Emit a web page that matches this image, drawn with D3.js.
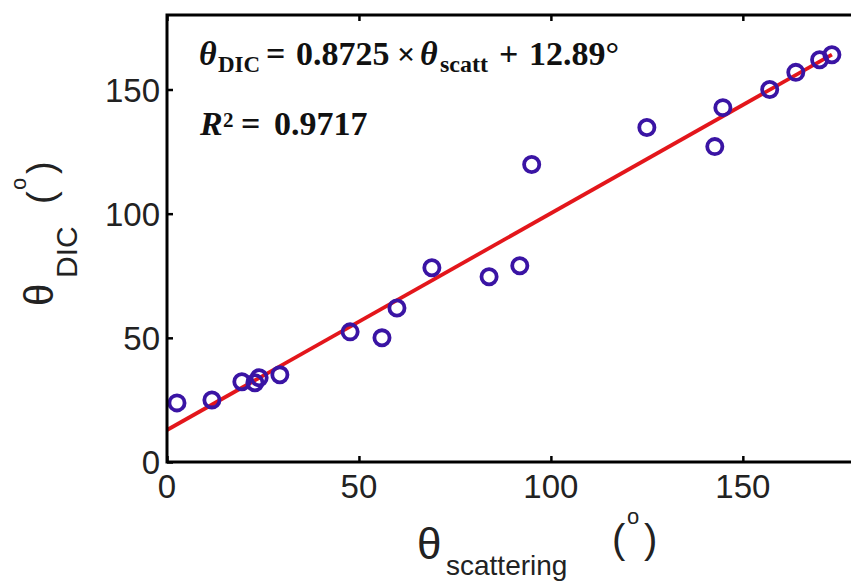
<!DOCTYPE html>
<html>
<head>
<meta charset="utf-8">
<script src="https://cdn.jsdelivr.net/npm/d3@7"></script>
<style>
  body { margin: 0; background: #fff; }
  svg { display: block; }
</style>
</head>
<body>
<svg id="chart" width="851" height="581"></svg>
<script>
// Measured angles (degrees)
const scatteringAngle = [2.6, 11.7, 19.5, 22.9, 24.0, 29.4, 47.7, 56.0, 59.9, 69.0, 83.9, 91.9, 95.0, 125.0, 142.7, 144.8, 157.0, 163.8, 170.0, 173.2];
const dicAngle        = [23.8, 25.0, 32.3, 31.9, 33.9, 35.1, 52.4, 50.0, 62.0, 78.2, 74.6, 79.0, 119.8, 134.7, 127.0, 142.7, 150.0, 156.9, 162.0, 164.0];

// Linear fit
const fitSlope = 0.8725;
const fitIntercept = 12.89;
const fitR2 = "0.9717";

// Axes
const xDomain = [0, 180];
const yDomain = [0, 180];
const xTicks = [0, 50, 100, 150];
const yTicks = [0, 50, 100, 150];

const svg = d3.select("#chart");
const plotLeft = 167, plotRight = 858, plotTop = 15, plotBottom = 462;

const x = d3.scaleLinear().domain(xDomain).range([plotLeft, plotRight]);
const y = d3.scaleLinear().domain(yDomain).range([plotBottom, plotTop]);

const sans = "'Liberation Sans', Arial, Helvetica, sans-serif";
const serif = "'Liberation Serif', 'Times New Roman', serif";
const labelColor = "#222";

// Fit line from 0 to the largest scattering angle
const fitX = [0, d3.max(scatteringAngle)];
const line = d3.line().x(d => x(d)).y(d => y(fitSlope * d + fitIntercept));
svg.append("path")
  .datum(fitX)
  .attr("d", line)
  .attr("fill", "none")
  .attr("stroke", "#e3161b")
  .attr("stroke-width", 3.8);

// Data markers
svg.append("g").selectAll("circle")
  .data(scatteringAngle.map((v, i) => [v, dicAngle[i]]))
  .join("circle")
  .attr("cx", d => x(d[0]))
  .attr("cy", d => y(d[1]))
  .attr("r", 7.6)
  .attr("fill", "none")
  .attr("stroke", "#3a14a4")
  .attr("stroke-width", 3.8);

// Box frame with inward ticks on all four sides
const tickLen = 6;
function styleAxis(g) {
  g.select(".domain").remove();
  g.selectAll(".tick line").attr("stroke", "#000").attr("stroke-width", 2.5);
}
svg.append("g").attr("transform", `translate(0,${plotBottom})`)
  .call(d3.axisBottom(x).tickValues(xTicks).tickSize(-tickLen).tickFormat(""))
  .call(styleAxis);
svg.append("g").attr("transform", `translate(0,${plotTop})`)
  .call(d3.axisTop(x).tickValues(xTicks).tickSize(-tickLen).tickFormat(""))
  .call(styleAxis);
svg.append("g").attr("transform", `translate(${plotLeft},0)`)
  .call(d3.axisLeft(y).tickValues(yTicks).tickSize(-tickLen).tickFormat(""))
  .call(styleAxis);
svg.append("g").attr("transform", `translate(${plotRight},0)`)
  .call(d3.axisRight(y).tickValues(yTicks).tickSize(-tickLen).tickFormat(""))
  .call(styleAxis);

svg.append("rect")
  .attr("x", plotLeft).attr("y", plotTop)
  .attr("width", plotRight - plotLeft).attr("height", plotBottom - plotTop)
  .attr("fill", "none").attr("stroke", "#000").attr("stroke-width", 3);

// Tick labels
svg.append("g").selectAll("text")
  .data(xTicks)
  .join("text")
  .attr("x", d => x(d))
  .attr("y", 498)
  .attr("text-anchor", "middle")
  .attr("font-family", sans)
  .attr("font-size", 33)
  .attr("fill", labelColor)
  .text(d => d);

svg.append("g").selectAll("text")
  .data(yTicks)
  .join("text")
  .attr("x", 160)
  .attr("y", d => y(d) + 12)
  .attr("text-anchor", "end")
  .attr("font-family", sans)
  .attr("font-size", 33)
  .attr("fill", labelColor)
  .text(d => d);

// X axis title: θ_scattering (°)
const xt = svg.append("text").attr("font-family", sans).attr("fill", labelColor);
xt.append("tspan").attr("x", 417).attr("y", 559).attr("font-size", 44).text("θ");
xt.append("tspan").attr("x", 446).attr("y", 575).attr("font-size", 28).text("scattering");
xt.append("tspan").attr("x", 612).attr("y", 553).attr("font-size", 40).text("(");
xt.append("tspan").attr("x", 627).attr("y", 524).attr("font-size", 22).text("o");
xt.append("tspan").attr("x", 644).attr("y", 553).attr("font-size", 40).text(")");

// Y axis title: θ_DIC (°), written in a frame rotated a quarter turn
const yt = svg.append("text")
  .attr("transform", "rotate(-90)")
  .attr("font-family", sans)
  .attr("fill", labelColor);
yt.append("tspan").attr("x", -306).attr("y", 53).attr("font-size", 40).text("θ");
yt.append("tspan").attr("x", -278).attr("y", 77).attr("font-size", 30).text("DIC");
yt.append("tspan").attr("x", -204).attr("y", 54).attr("font-size", 38).text("(");
yt.append("tspan").attr("x", -190).attr("y", 26).attr("font-size", 22).text("o");
yt.append("tspan").attr("x", -174).attr("y", 54).attr("font-size", 38).text(")");

// Fit equation and R²
const eq = svg.append("text")
  .attr("font-family", serif)
  .attr("font-weight", "bold")
  .attr("font-size", 34)
  .attr("fill", "#111");
eq.append("tspan").attr("x", 199).attr("y", 65).attr("font-style", "italic").text("θ");
eq.append("tspan").attr("x", 218).attr("y", 72).attr("font-size", 23).text("DIC");
eq.append("tspan").attr("x", 266).attr("y", 65).text("=");
eq.append("tspan").attr("x", 296).attr("y", 65).text(fitSlope);
eq.append("tspan").attr("x", 397).attr("y", 65).attr("font-size", 32).text("×");
eq.append("tspan").attr("x", 420).attr("y", 65).attr("font-style", "italic").text("θ");
eq.append("tspan").attr("x", 440).attr("y", 72).attr("font-size", 24).text("scatt");
eq.append("tspan").attr("x", 499).attr("y", 65).text("+");
eq.append("tspan").attr("x", 529).attr("y", 65).text(`${fitIntercept}°`);

const r2 = svg.append("text")
  .attr("font-family", serif)
  .attr("font-weight", "bold")
  .attr("font-size", 34)
  .attr("fill", "#111");
r2.append("tspan").attr("x", 200).attr("y", 135).attr("font-style", "italic").text("R");
r2.append("tspan").attr("x", 223).attr("y", 127).attr("font-size", 21).text("2");
r2.append("tspan").attr("x", 241).attr("y", 135).text("=");
r2.append("tspan").attr("x", 274).attr("y", 135).text(fitR2);
</script>
</body>
</html>
